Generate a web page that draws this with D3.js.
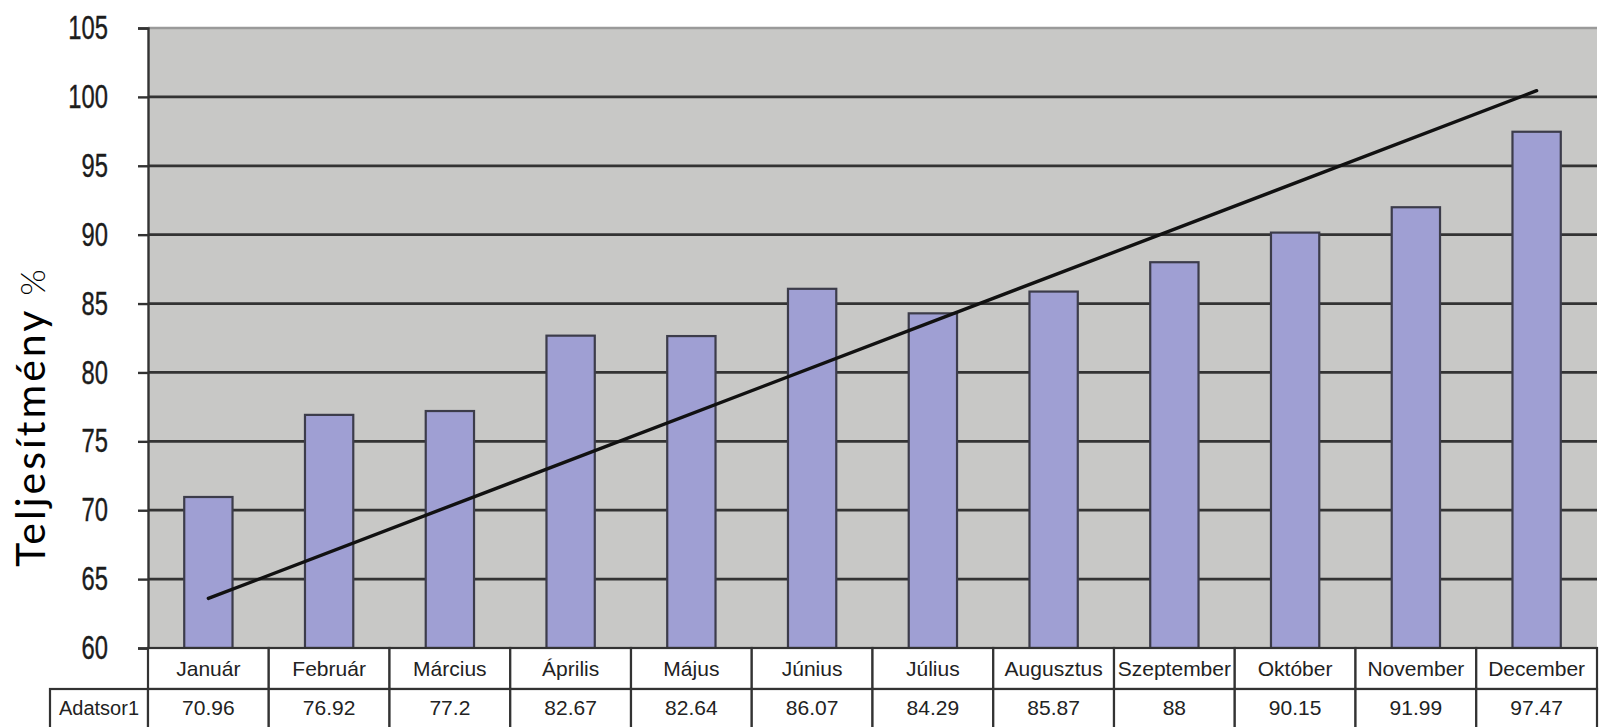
<!DOCTYPE html>
<html>
<head>
<meta charset="utf-8">
<script src="https://cdn.jsdelivr.net/npm/d3@7"></script>
<style>
html,body{margin:0;padding:0;background:#fff;}
svg{display:block;}
</style>
</head>
<body>
<svg id="chart" width="1604" height="727"></svg>
<script>
const categories = ["Január","Február","Március","Április","Május","Június","Július","Augusztus","Szeptember","Október","November","December"];
const values = [70.96,76.92,77.2,82.67,82.64,86.07,84.29,85.87,88,90.15,91.99,97.47];
const valueLabels = ["70.96","76.92","77.2","82.67","82.64","86.07","84.29","85.87","88","90.15","91.99","97.47"];
const seriesName = "Adatsor1";
const yTicks = [60,65,70,75,80,85,90,95,100,105];
const trendStartEnd = [63.6,100.45];
const yTitle = "Teljesítmény";
const yUnit = "%";

const svg = d3.select("#chart");
const L = 148, R = 1597, T = 28, B = 648;
const rowH = 41;
const FONT = "'Liberation Sans', Arial, sans-serif";

const x = d3.scaleBand().domain(categories).range([L,R]).paddingInner(0).paddingOuter(0);
const y = d3.scaleLinear().domain([60,105]).range([B,T]);
const bw = x.bandwidth();

// plot background
svg.append("rect").attr("x",L).attr("y",T).attr("width",R-L).attr("height",B-T).attr("fill","#c8c8c6");
// top border
svg.append("line").attr("x1",L).attr("x2",R).attr("y1",T).attr("y2",T).attr("stroke","#9a9a9a").attr("stroke-width",2.5);

// gridlines
svg.append("g").selectAll("line").data(yTicks.filter(t=>t>60 && t<105)).join("line")
  .attr("x1",L).attr("x2",R).attr("y1",d=>y(d)).attr("y2",d=>y(d))
  .attr("stroke","#333").attr("stroke-width",2.8);

// bars
svg.append("g").selectAll("rect").data(values).join("rect")
  .attr("x",(d,i)=>x(categories[i]) + bw*0.3)
  .attr("width",bw*0.4)
  .attr("y",d=>y(d))
  .attr("height",d=>y(60)-y(d))
  .attr("fill","#9f9fd3")
  .attr("stroke","#3c3c4a").attr("stroke-width",2.2);

// trend line
svg.append("line")
  .attr("x1",x(categories[0])+bw/2).attr("y1",y(trendStartEnd[0]))
  .attr("x2",x(categories[categories.length-1])+bw/2).attr("y2",y(trendStartEnd[1]))
  .attr("stroke","#111").attr("stroke-width",3.4).attr("stroke-linecap","round");

// y axis
const sx = 0.72;
const yAxis = svg.append("g").attr("transform",`translate(${L},0)`)
  .call(d3.axisLeft(y).tickValues(yTicks).tickSize(10).tickPadding(30).tickFormat(d3.format("d")));
yAxis.select(".domain").attr("stroke","#333").attr("stroke-width",2.4);
yAxis.selectAll(".tick line").attr("stroke","#333").attr("stroke-width",2.4);
yAxis.selectAll(".tick text").attr("font-family",FONT)
  .attr("font-size",33).attr("fill","#1c1c1c")
  .attr("x",-40/sx).attr("transform",`scale(${sx},1)`)
  .attr("stroke","#1c1c1c").attr("stroke-width",0.4);

// table
const tbl = svg.append("g");
tbl.selectAll("rect.cat").data(categories).join("rect").attr("class","cat")
  .attr("x",d=>x(d)).attr("y",B).attr("width",bw).attr("height",rowH)
  .attr("fill","#fff").attr("stroke","#333").attr("stroke-width",2.2);
tbl.selectAll("text.cat").data(categories).join("text").attr("class","cat")
  .attr("x",d=>x(d)+bw/2).attr("y",B+rowH/2+7)
  .attr("text-anchor","middle").attr("font-family",FONT)
  .attr("font-size",21).attr("fill","#222").text(d=>d);
tbl.append("rect").attr("x",50).attr("y",B+rowH).attr("width",L-50).attr("height",rowH+6)
  .attr("fill","#fff").attr("stroke","#333").attr("stroke-width",2.2);
tbl.append("text").attr("x",(50+L)/2).attr("y",B+rowH+rowH/2+5)
  .attr("text-anchor","middle").attr("font-family",FONT)
  .attr("font-size",20).attr("fill","#222").text(seriesName);
tbl.selectAll("rect.val").data(valueLabels).join("rect").attr("class","val")
  .attr("x",(d,i)=>x(categories[i])).attr("y",B+rowH).attr("width",bw).attr("height",rowH+6)
  .attr("fill","#fff").attr("stroke","#333").attr("stroke-width",2.2);
tbl.selectAll("text.val").data(valueLabels).join("text").attr("class","val")
  .attr("x",(d,i)=>x(categories[i])+bw/2).attr("y",B+rowH+rowH/2+5)
  .attr("text-anchor","middle").attr("font-family",FONT)
  .attr("font-size",21).attr("fill","#222").text(d=>d);

// y title
const yt = svg.append("text").attr("transform","translate(45,418) rotate(-90)")
  .attr("text-anchor","middle").attr("font-family","Lato, 'Open Sans', sans-serif").attr("fill","#000");
yt.append("tspan").attr("font-size",41).attr("letter-spacing","3px").text(yTitle);
yt.append("tspan").attr("font-size",34).attr("font-weight",300).attr("dx",12).text(yUnit);
</script>
</body>
</html>
